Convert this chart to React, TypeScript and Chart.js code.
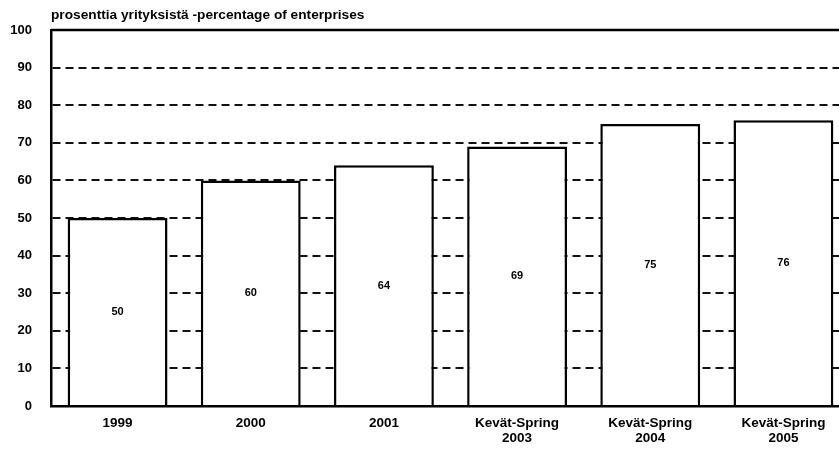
import React, { useEffect, useRef } from "react";
import { Chart, registerables } from "chart.js";

Chart.register(...registerables);

const categories: (string | string[])[] = [
  "1999",
  "2000",
  "2001",
  ["Kevät-Spring", "2003"],
  ["Kevät-Spring", "2004"],
  ["Kevät-Spring", "2005"],
];
const values: number[] = [50, 60, 64, 69, 75, 76];
const yTicks: number[] = [0, 10, 20, 30, 40, 50, 60, 70, 80, 90, 100];
const titleText = "prosenttia yrityksistä -percentage of enterprises";

const FONT = '"Liberation Sans", Arial, sans-serif';

const overlayPlugin = {
  id: "overlay",
  afterDatasetsDraw(chart: any) {
    const { ctx, chartArea, scales } = chart;
    const y = scales.y;
    ctx.save();
    ctx.strokeStyle = "#000";
    ctx.lineWidth = 2.5;
    ctx.setLineDash([]);
    const yTop = y.getPixelForValue(100);
    ctx.beginPath();
    ctx.moveTo(chartArea.left, yTop);
    ctx.lineTo(chartArea.right, yTop);
    ctx.stroke();
    const meta = chart.getDatasetMeta(0);
    ctx.fillStyle = "#000";
    ctx.font = "bold 11px " + FONT;
    ctx.textAlign = "center";
    ctx.textBaseline = "middle";
    meta.data.forEach((bar: any, i: number) => {
      const v = values[i];
      ctx.fillText(String(v), bar.x, y.getPixelForValue(v / 2));
    });
    ctx.font = "bold 13.7px " + FONT;
    ctx.textAlign = "left";
    ctx.textBaseline = "middle";
    ctx.fillText(titleText, chartArea.left, 15);
    ctx.restore();
  },
};

export default function App() {
  const ref = useRef<HTMLCanvasElement | null>(null);
  useEffect(() => {
    if (!ref.current) return;
    const chart = new Chart(ref.current, {
      type: "bar",
      data: {
        labels: categories,
        datasets: [
          {
            data: values,
            backgroundColor: "#fff",
            borderColor: "#000",
            borderWidth: 2.5,
            barPercentage: 0.75,
            categoryPercentage: 1,
          },
        ],
      },
      options: {
        animation: false,
        responsive: false,
        maintainAspectRatio: false,
        layout: { padding: { top: 30, right: 10, left: 0, bottom: 0 } },
        plugins: {
          legend: { display: false },
          tooltip: { enabled: false },
          title: { display: false },
        },
        scales: {
          x: {
            grid: { display: false, drawTicks: false },
            border: { display: true, color: "#000", width: 2.5 },
            ticks: {
              color: "#000",
              font: { family: FONT, size: 13.5, weight: "bold", lineHeight: 1.1 },
              padding: 10,
              maxRotation: 0,
              autoSkip: false,
            },
            afterFit(scale: any) {
              scale.height = 44;
            },
          },
          y: {
            min: 0,
            max: 100,
            afterBuildTicks(scale: any) {
              scale.ticks = yTicks.map((v) => ({ value: v }));
            },
            grid: {
              color: "#111",
              lineWidth: 2,
              drawTicks: false,
            },
            border: { display: true, color: "#000", width: 2.5, dash: [8, 5] },
            ticks: {
              color: "#000",
              font: { family: FONT, size: 13, weight: "bold" },
              padding: 19,
            },
            afterFit(scale: any) {
              scale.width = 51;
            },
          },
        },
      },
      plugins: [overlayPlugin],
    });
    return () => chart.destroy();
  }, []);
  return (
    <div
      style={{
        position: "fixed",
        left: 0,
        top: 0,
        width: 839,
        height: 450,
        overflow: "hidden",
        background: "#fff",
      }}
    >
      <canvas ref={ref} width={860} height={450} style={{ display: "block" }} />
    </div>
  );
}
